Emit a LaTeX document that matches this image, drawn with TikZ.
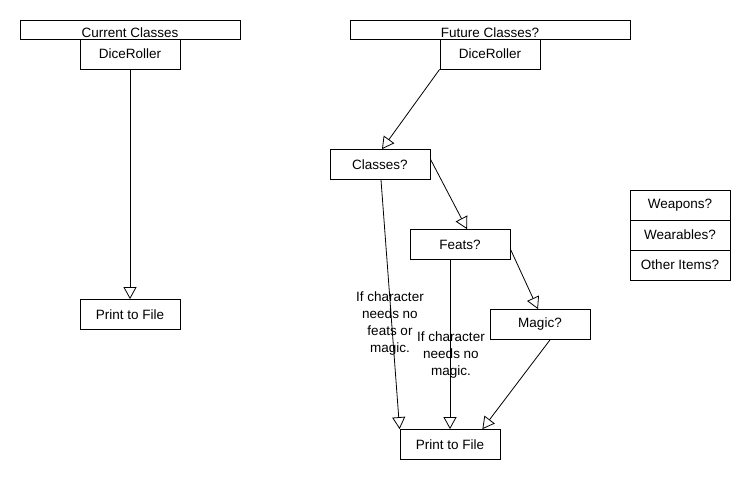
\documentclass[tikz,border=0pt]{standalone}
\usepackage{fontspec}
\setmainfont{Liberation Sans}
\usetikzlibrary{arrows.meta,calc}
\begin{document}
\begin{tikzpicture}[x=1pt,y=-1pt,
  txt/.style={font=\fontsize{13.5}{17}\selectfont},
  box/.style={txt, draw, line width=0.8pt, minimum width=100pt, minimum height=30pt, inner sep=0pt},
  hdr/.style={draw, line width=0.8pt, minimum height=19pt, inner sep=0pt},
  lbl/.style={txt, align=center, inner sep=0pt},
  arr/.style={line width=0.8pt, -{Triangle[open,length=12pt,width=13pt]}}]
\useasboundingbox (0,0) rectangle (750,480);
% left column
\node[hdr, minimum width=220pt] (cc) at (130,29.5) {};
\node[txt, anchor=base] (cct) at ($(cc.south)+(0,-1.5)$) {Current Classes};
\node[box] (dl) at (130,54) {DiceRoller};
\node[box] (pl) at (130,314.5) {Print to File};
\draw[arr] (dl.south) -- (pl.north);
% right column
\node[hdr, minimum width=280pt] (fc) at (490,29.5) {};
\node[txt, anchor=base] (fct) at ($(fc.south)+(0,-1.5)$) {Future Classes?};
\node[box] (dr) at (490,54) {DiceRoller};
\node[box] (cl) at (380,164.5) {Classes?};
\node[box] (ft) at (460,244.5) {Feats?};
\node[box] (mg) at (540,324.5) {Magic?};
\node[box] (pf) at (450,444.5) {Print to File};
\draw[arr] (dr.south west) -- ($(cl.north)+(2,0)$);
\draw[arr] ($(cl.north east)+(0,10)$) -- ($(ft.north)+(7,0)$);
\draw[arr] ($(ft.north east)+(0,20)$) -- ($(mg.north)+(-2,0)$);
\draw[arr] ($(cl.south)+(1,0)$) -- (pf.north west);
\draw[arr] ($(ft.south)+(-10,0)$) -- (pf.north);
\draw[arr] ($(mg.south)+(10,0)$) -- ($(pf.north east)+(-18,0)$);
\node[lbl] (l1) at (390,324) {If character\\needs no\\feats or\\magic.};
\node[lbl] (l2) at (451,355) {If character\\needs no\\magic.};
% items
\node[box] (wp) at (680,205) {Weapons?};
\node[box] (wr) at (680,235) {Wearables?};
\node[box] (oi) at (680,265) {Other Items?};
\end{tikzpicture}
\end{document}
